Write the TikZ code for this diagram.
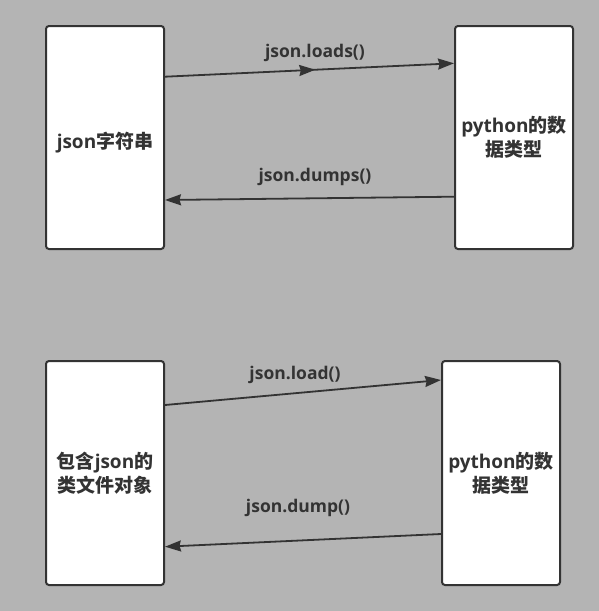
\documentclass[tikz,border=0pt]{standalone}
\usepackage{fontspec}
\setmainfont{Open Sans}
\newfontfamily\cjk{Noto Sans CJK SC}
\usetikzlibrary{arrows.meta,decorations.markings}

\newlength{\du}
\setlength{\du}{1pt}
\definecolor{bgcolor}{rgb}{0.706, 0.706, 0.706}
\definecolor{dialinecolor}{rgb}{0.200, 0.200, 0.200}

\tikzset{
  procbox/.style={draw=dialinecolor, fill=white, line width=2pt,
    rounded corners=3pt, minimum width=118pt, inner sep=0pt,
    align=center, text=dialinecolor,
    font=\bfseries\fontsize{19}{24}\selectfont},
  funclabel/.style={text=dialinecolor, inner sep=0pt,
    font=\bfseries\fontsize{17.5}{20}\selectfont},
  flowline/.style={draw=dialinecolor, line width=1.8pt,
    -{Stealth[length=16pt, width=11pt, inset=1.5pt]}},
  midarrow/.style={postaction={decorate}, decoration={markings,
    mark=at position 0.52 with {\arrow{Stealth[length=16pt, width=11pt, inset=1.5pt]}}}}
}

\begin{document}
\begin{tikzpicture}[x=1pt, y=-1pt]
\fill[bgcolor] (0,0) rectangle (599,611);
\useasboundingbox (0,0) rectangle (599,611);
% upper pair
\node[procbox, minimum height=223pt] (jsonstr) at (105,137.5) {\raisebox{-5pt}[\height][\depth]{json{\cjk 字符串}}};
\node[procbox, minimum height=223pt] (pytype) at (514,137.5) {python{\cjk 的数}\\{\cjk 据类型}};
% lower pair
\node[procbox, minimum height=224pt] (fileobj) at (105,473) {{\cjk 包含}json{\cjk 的}\\{\cjk 类文件对象}};
\node[procbox, minimum height=224pt] (pytypeb) at (501,473) {python{\cjk 的数}\\{\cjk 据类型}};
% connectors
\draw[flowline, midarrow] ([yshift=60.8pt]jsonstr.east) -- ([yshift=74.2pt]pytype.west);
\draw[flowline] ([yshift=-59.2pt]pytype.west) -- ([yshift=-62.5pt]jsonstr.east);
\draw[flowline] ([yshift=68pt]fileobj.east) -- ([yshift=93pt]pytypeb.west);
\draw[flowline] ([yshift=-61pt]pytypeb.west) -- ([yshift=-73.7pt]fileobj.east);
% labels
\node[funclabel] (loadslabel) at (315,53) {json.loads()};
\node[funclabel] (dumpslabel) at (315,177) {json.dumps()};
\node[funclabel] (loadlabel) at (295,375) {json.load()};
\node[funclabel] (dumplabel) at (298,508) {json.dump()};
\end{tikzpicture}
\end{document}
